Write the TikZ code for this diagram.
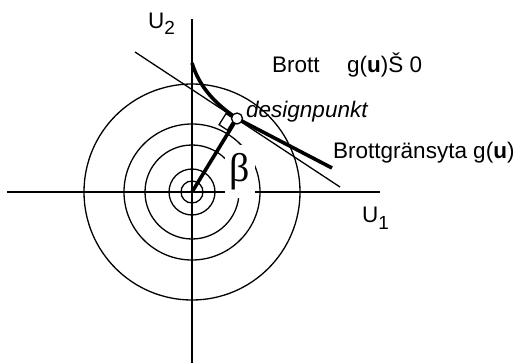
\documentclass[tikz,border=0pt]{standalone}
\usepackage{fontspec}
\setmainfont{Liberation Sans}
\newfontfamily\greekfont{Liberation Serif}
\begin{document}
\begin{tikzpicture}[x=1pt,y=-1pt,
  thinline/.style={line width=1.3pt},
  thickline/.style={line width=3.6pt},
  lbl/.style={font=\fontsize{22.5}{26}\selectfont, inner sep=0pt},
  sub/.style={font=\fontsize{19}{22}\selectfont}]
\useasboundingbox (0,0) rectangle (526,363);
% axes
\coordinate (O) at (192,192);
\coordinate (xl) at (7,192);
\coordinate (xr) at (380,192);
\coordinate (yt) at (192,19);
\coordinate (yb) at (192,363);
\draw[thinline] (xl) -- (xr);
\draw[thinline] (yb) -- (yt);
% concentric circles
\foreach \r in {11,23,47,68,108} \draw[thinline] (O) circle (\r pt);
% beta label with white background
\node[fill=white, minimum width=30pt, minimum height=53pt, inner sep=0pt] (bet) at (240,171.5)
  {\greekfont\fontsize{40}{40}\selectfont β};
% tangent line
\coordinate (ta) at (135,52);
\coordinate (tb) at (340,187);
\draw[thinline] (ta) -- (tb);
% design point
\coordinate (Dc) at (237,118.5);
% limit state surface
\coordinate (ga) at (192,63);
\coordinate (gb) at (332,168);
\draw[thickline] (ga) .. controls (199,86) and (214,103) .. (Dc) -- (gb);
% beta vector
\draw[thickline] (O) -- (Dc);
% right angle marker
\coordinate (s0) at (234.3,119.1);
\coordinate (s1) at (226.0,113.6);
\coordinate (s2) at (219.1,124.7);
\coordinate (s3) at (227.5,130.2);
\draw[thinline, line join=miter] (s0) -- (s1) -- (s2) -- (s3) -- cycle;
\node[circle, draw, fill=white, line width=1.3pt, minimum size=11pt, inner sep=0pt] (D) at (Dc) {};
% labels
\node[lbl, anchor=base west] (u2) at (148,29) {U\raisebox{-6pt}{\fontsize{19}{22}\selectfont 2}};
\node[lbl, anchor=base west] (u1) at (362,222) {U\raisebox{-7pt}{\fontsize{19}{22}\selectfont 1}};
\node[lbl, anchor=base west] (brott) at (272,73) {Brott};
\node[lbl, anchor=base west] (gu) at (347,73) {g(\textbf{u})Š 0};
\node[lbl, anchor=base west] (dp) at (246,118) {\itshape designpunkt};
\node[lbl, anchor=base west] (bg) at (333,159) {Brottgränsyta g(\textbf{u})};
\end{tikzpicture}
\end{document}
